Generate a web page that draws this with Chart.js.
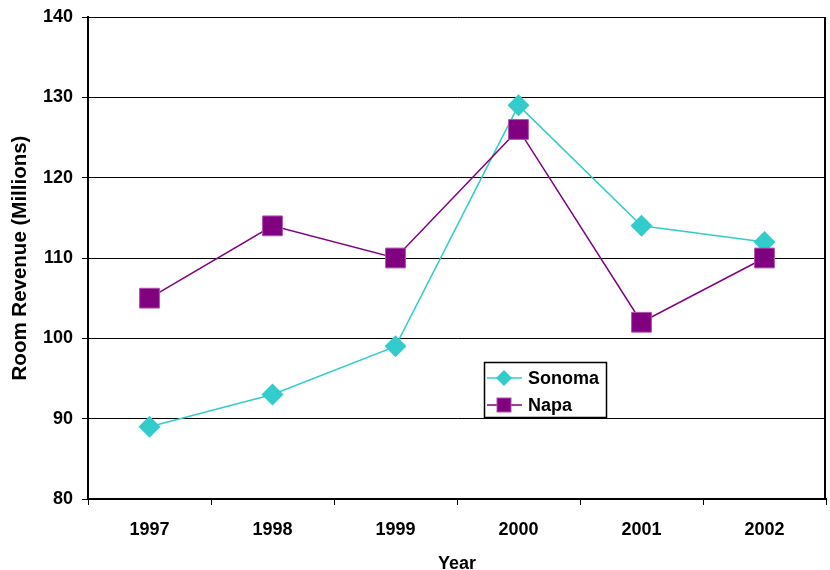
<!DOCTYPE html>
<html>
<head>
<meta charset="utf-8">
<script src="https://cdn.jsdelivr.net/npm/chart.js@4"></script>
<style>
  html, body { margin: 0; padding: 0; background: #fff; }
  #wrap { width: 830px; height: 570px; }
</style>
</head>
<body>
<div id="wrap"><canvas id="chart" width="830" height="570"></canvas></div>
<script>
'use strict';

const years = ['1997', '1998', '1999', '2000', '2001', '2002'];
const sonoma = [89, 93, 99, 129, 114, 112];
const napa = [105, 114, 110, 126, 102, 110];

const fam = 'Arial, "Liberation Sans", sans-serif';
const font = { family: fam, size: 18, weight: 'bold' };

// legend box and right edge of the plot, drawn by hand
const boxPlugin = {
  id: 'boxPlugin',
  afterDatasetsDraw: function(chart) {
    const ctx = chart.ctx;
    const a = chart.chartArea;
    ctx.save();
    ctx.strokeStyle = '#000';
    ctx.lineWidth = 2;
    ctx.beginPath();
    ctx.moveTo(a.right - 1, a.top);
    ctx.lineTo(a.right - 1, a.bottom);
    ctx.stroke();

    const x = 484, y = 362, w = 122, h = 55;
    ctx.fillStyle = '#fff';
    ctx.fillRect(x, y, w, h);
    ctx.lineWidth = 1.5;
    ctx.strokeRect(x + 0.5, y + 0.5, w, h);

    chart.data.datasets.forEach(function(ds, i) {
      const cy = y + 16 + i * 27;
      ctx.strokeStyle = ds.borderColor;
      ctx.lineWidth = 1.5;
      ctx.beginPath();
      ctx.moveTo(x + 3, cy);
      ctx.lineTo(x + 38, cy);
      ctx.stroke();
      ctx.fillStyle = ds.pointBackgroundColor;
      ctx.strokeStyle = ds.pointBorderColor;
      const cx = x + 20;
      if (ds.pointStyle === 'rectRot') {
        ctx.beginPath();
        ctx.moveTo(cx, cy - 8);
        ctx.lineTo(cx + 8, cy);
        ctx.lineTo(cx, cy + 8);
        ctx.lineTo(cx - 8, cy);
        ctx.closePath();
        ctx.fill();
      } else {
        ctx.fillRect(cx - 7, cy - 7, 14, 14);
        ctx.lineWidth = 1;
        ctx.strokeRect(cx - 7, cy - 7, 14, 14);
      }
      ctx.fillStyle = '#000';
      ctx.font = 'bold 18px ' + fam;
      ctx.textBaseline = 'middle';
      ctx.fillText(ds.label, x + 44, cy + 1);
    });
    ctx.restore();
  }
};

new Chart(document.getElementById('chart'), {
  type: 'line',
  data: {
    labels: years,
    datasets: [
      {
        label: 'Sonoma',
        data: sonoma,
        borderColor: '#33cccc',
        borderWidth: 1.5,
        pointStyle: 'rectRot',
        pointRadius: 11,
        pointBackgroundColor: '#33cccc',
        pointBorderColor: '#33cccc',
        pointBorderWidth: 0,
        tension: 0,
        order: 2
      },
      {
        label: 'Napa',
        data: napa,
        borderColor: '#800080',
        borderWidth: 1.5,
        pointStyle: 'rect',
        pointRadius: 14,
        pointBackgroundColor: '#800080',
        pointBorderColor: '#b050b0',
        pointBorderWidth: 1,
        tension: 0,
        order: 1
      }
    ]
  },
  options: {
    responsive: false,
    animation: false,
    layout: { autoPadding: false, padding: { left: 0, top: 17, right: 4, bottom: 0 } },
    plugins: {
      legend: { display: false },
      tooltip: { enabled: false }
    },
    scales: {
      x: {
        offset: true,
        grid: { offset: true, drawOnChartArea: false, drawTicks: true, tickLength: 6, color: '#000' },
        border: { color: '#000', width: 2 },
        ticks: { color: '#000', font: font, padding: 14 },
        title: { display: true, text: 'Year', color: '#000', font: font, padding: { top: 0, bottom: -5 } },
        afterFit: function(scale) {
          scale.height = 71;
          scale.paddingLeft = 0;
          scale.paddingRight = 0;
        }
      },
      y: {
        min: 80,
        max: 140,
        ticks: { stepSize: 10, color: '#000', font: font, padding: 9 },
        grid: { color: '#000', lineWidth: 1, tickLength: 6 },
        border: { color: '#000', width: 2 },
        title: { display: true, text: 'Room Revenue (Millions)', color: '#000', font: { family: fam, size: 20.5, weight: 'bold' }, padding: { top: 8, bottom: 0 } },
        afterFit: function(scale) {
          scale.width = 88;
          scale.paddingTop = 0;
          scale.paddingBottom = 0;
        }
      }
    }
  },
  plugins: [boxPlugin]
});
</script>
</body>
</html>
